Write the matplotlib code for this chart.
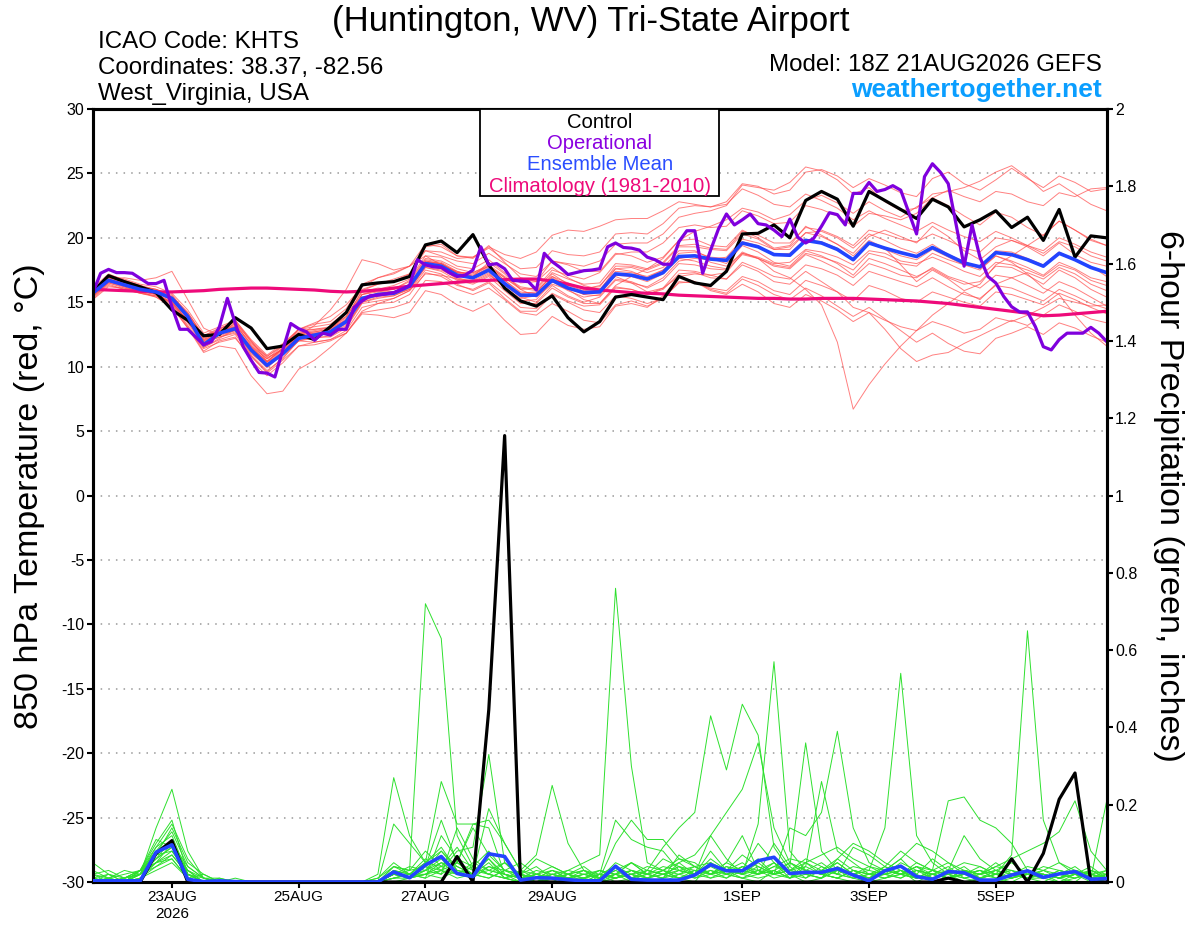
import matplotlib
matplotlib.use("Agg")
import matplotlib.pyplot as plt
from matplotlib.patches import Rectangle
import pandas as pd

plt.rcParams["font.family"] = ["Liberation Sans", "DejaVu Sans"]
plt.rcParams["axes.unicode_minus"] = False

# --- data: GEFS 18Z 21AUG2026, 6-hourly (operational 3-hourly) ---
times = pd.date_range("2026-08-21 18:00", periods=65, freq="6h")
times_op = pd.date_range("2026-08-21 18:00", periods=129, freq="3h")

control_t = [15.8, 17.06, 16.6, 16.2, 15.75, 14.4, 13.6, 12.4, 12.5, 13.8,
             13.0, 11.4, 11.6, 12.5, 12.1, 13.1, 14.2, 16.35, 16.5, 16.6,
             17.0, 19.45, 19.75, 18.85, 20.25, 17.9, 16.1, 15.1, 14.7, 15.5,
             13.8, 12.7, 13.5, 15.4, 15.6, 15.4, 15.2, 17.0, 16.5, 16.3,
             17.4, 20.3, 20.35, 21.0, 20.0, 22.9, 23.6, 23.0, 20.9, 23.6,
             22.9, 22.2, 21.5, 23.0, 22.4, 20.85, 21.4, 22.1, 20.8, 21.6,
             19.8, 22.2, 18.5, 20.15, 20.0]

mean_t = [15.7, 16.7, 16.35, 16.0, 15.8, 15.3, 13.9, 11.7, 12.6, 12.95,
          11.3, 10.1, 11.0, 12.2, 12.45, 12.7, 13.5, 15.3, 15.6, 15.7,
          16.25, 18.0, 17.8, 17.1, 16.9, 17.5, 16.45, 15.55, 15.55, 16.7,
          16.1, 15.75, 15.8, 17.2, 17.1, 16.8, 17.3, 18.55, 18.6, 18.35,
          18.25, 19.6, 19.3, 18.7, 18.65, 19.8, 19.6, 19.1, 18.3, 19.6,
          19.2, 18.85, 18.55, 19.25, 18.65, 18.05, 17.75, 18.85, 18.7, 18.3,
          17.8, 18.8, 18.3, 17.7, 17.3]

climo_t = [16.0, 15.95, 15.9, 15.85, 15.8, 15.8, 15.85, 15.9, 16.0, 16.05,
           16.1, 16.1, 16.05, 16.0, 15.95, 15.85, 15.8, 15.85, 15.95, 16.1,
           16.25, 16.35, 16.45, 16.55, 16.65, 16.7, 16.75, 16.8, 16.8, 16.65,
           16.4, 16.1, 15.95, 15.85, 15.75, 15.7, 15.65, 15.55, 15.5, 15.45,
           15.4, 15.35, 15.3, 15.3, 15.25, 15.25, 15.3, 15.3, 15.3, 15.25,
           15.2, 15.15, 15.1, 15.0, 14.9, 14.75, 14.6, 14.45, 14.3, 14.15,
           13.95, 14.0, 14.1, 14.2, 14.3]

oper_t = [15.7, 17.25, 17.55, 17.3, 17.3, 17.25, 16.85, 16.45, 16.45, 16.7,
          14.65, 12.9, 12.9, 12.3, 11.7, 11.95, 13.1, 15.3, 13.35, 11.55,
          10.5, 9.55, 9.5, 9.2, 11.3, 13.35, 12.95, 12.7, 12.05, 12.6,
          12.45, 12.9, 12.9, 14.6, 15.1, 15.5, 15.55, 15.65, 15.75, 16.0,
          16.3, 18.3, 17.9, 17.75, 17.7, 17.3, 17.0, 17.1, 17.5, 19.3,
          17.9, 18.0, 17.6, 16.7, 16.65, 16.6, 15.95, 18.8, 18.15, 17.7,
          17.15, 17.3, 17.45, 17.5, 17.6, 19.3, 19.6, 19.25, 19.2, 19.05,
          18.5, 18.3, 17.95, 17.95, 19.7, 20.55, 20.55, 17.25, 19.05, 20.7,
          21.85, 21.0, 21.4, 21.85, 21.1, 21.0, 20.6, 20.1, 21.45, 20.05,
          19.6, 19.95, 20.9, 21.95, 21.8, 21.0, 23.45, 23.45, 24.3, 23.6,
          23.75, 24.05, 23.7, 22.0, 20.3, 24.75, 25.75, 25.1, 24.2, 21.0,
          17.8, 21.0, 18.5, 17.0, 16.5, 15.45, 14.65, 14.25, 14.25, 13.1,
          11.55, 11.3, 12.1, 12.6, 12.6, 12.6, 13.05, 12.6, 11.95]

# ensemble members (850 hPa temperature)
temp_members = [
    [15.9, 16.9, 16.6, 16.2, 16.0, 15.6, 14.0, 12.3, 12.8, 13.2, 11.8, 10.8, 11.6, 12.7, 12.9, 13.1, 13.9, 15.8, 16.1, 16.0,
     16.7, 18.4, 18.2, 17.6, 17.3, 17.9, 17.0, 16.2, 16.0, 17.3, 16.8, 16.4, 16.5, 18.0, 17.9, 17.6, 18.1, 19.4, 19.5, 19.2,
     19.1, 20.5, 20.2, 19.6, 19.6, 20.8, 20.6, 20.1, 19.4, 20.6, 20.3, 19.9, 19.7, 20.3, 19.8, 19.2, 18.9, 20.0, 19.8, 19.4,
     19.0, 20.0, 19.5, 18.9, 18.5],
    [15.4, 16.4, 16.0, 15.7, 15.5, 14.8, 13.1, 11.2, 12.0, 12.3, 10.5, 9.3, 10.3, 11.6, 11.9, 12.1, 12.8, 14.6, 14.9, 15.0,
     15.6, 17.3, 17.0, 16.3, 16.0, 16.6, 15.6, 14.6, 14.5, 15.7, 15.1, 14.7, 14.8, 16.1, 16.0, 15.6, 16.0, 17.2, 17.3, 16.9,
     16.8, 18.1, 17.6, 17.0, 16.8, 17.9, 17.6, 17.1, 16.3, 17.4, 17.0, 16.6, 16.2, 16.9, 16.2, 15.6, 15.3, 16.3, 16.1, 15.6,
     15.1, 16.0, 15.5, 14.9, 14.5],
    [15.6, 16.8, 16.9, 16.7, 16.9, 17.4, 15.2, 13.0, 12.4, 12.8, 11.6, 10.6, 11.4, 12.9, 13.4, 13.9, 14.8, 16.2, 16.9, 17.3,
     17.8, 18.6, 17.9, 17.4, 17.0, 18.1, 17.2, 16.0, 15.4, 16.4, 16.0, 15.2, 14.9, 16.3, 17.0, 17.6, 18.4, 19.8, 20.5, 20.9,
     21.4, 22.3, 22.0, 21.4, 21.8, 22.9, 23.3, 22.7, 21.9, 22.8, 22.1, 21.6, 22.4, 23.1, 22.5, 21.7, 21.0, 22.0, 21.6, 20.8,
     20.2, 21.3, 20.6, 19.9, 19.4],
    [15.2, 16.2, 16.1, 15.9, 15.6, 15.0, 13.6, 12.0, 12.5, 13.4, 12.0, 10.4, 10.9, 12.0, 12.3, 13.0, 13.9, 15.6, 15.9, 15.8,
     16.3, 18.1, 18.0, 17.3, 17.3, 17.8, 16.9, 16.1, 15.9, 17.0, 16.5, 16.0, 16.3, 17.6, 17.4, 16.9, 17.5, 18.4, 18.7, 18.1,
     17.8, 18.8, 18.4, 17.4, 16.9, 16.0, 14.8, 11.9, 6.7, 8.6, 10.2, 11.6, 12.8, 14.0, 14.9, 15.8, 15.2, 16.4, 16.9, 17.3,
     16.8, 17.7, 17.2, 16.4, 15.9],
    [15.8, 17.1, 16.8, 16.4, 16.2, 15.7, 14.4, 12.6, 13.1, 13.6, 12.1, 10.9, 11.8, 12.9, 13.3, 13.5, 14.5, 16.4, 16.9, 17.2,
     17.8, 19.5, 19.3, 18.6, 18.5, 19.2, 18.3, 17.6, 17.7, 19.0, 18.7, 18.6, 18.9, 20.3, 20.4, 20.3, 21.1, 22.3, 22.5, 22.4,
     22.8, 24.2, 24.0, 23.4, 23.7, 25.1, 25.3, 24.8, 23.9, 24.6, 24.1, 23.5, 23.2, 24.6, 25.1, 24.2, 23.7, 24.5, 25.4, 24.6,
     23.9, 24.8, 24.3, 23.6, 23.8],
    [15.5, 16.5, 16.2, 15.8, 15.4, 14.6, 13.0, 11.4, 11.9, 12.2, 10.8, 9.5, 10.5, 11.6, 11.7, 12.0, 12.6, 14.2, 14.4, 14.6,
     15.0, 16.7, 16.6, 16.0, 15.6, 16.1, 15.2, 14.2, 14.0, 14.9, 14.3, 13.6, 13.4, 14.8, 15.1, 14.7, 15.3, 16.5, 16.6, 16.0,
     15.7, 16.8, 16.3, 15.6, 15.2, 16.1, 15.5, 14.7, 13.9, 14.6, 13.7, 12.8, 11.9, 12.6, 11.8, 11.2, 11.0, 12.2, 12.6, 13.1,
     12.5, 13.4, 13.0, 12.4, 11.9],
    [16.1, 17.2, 16.7, 16.3, 15.9, 15.2, 13.9, 12.1, 12.9, 13.5, 11.9, 10.7, 11.3, 12.4, 12.4, 12.6, 13.2, 15.0, 15.3, 15.5,
     16.1, 17.7, 17.5, 16.9, 16.6, 17.2, 16.1, 15.3, 15.5, 16.9, 16.1, 15.6, 15.9, 17.6, 17.7, 17.3, 17.7, 19.0, 19.0, 18.4,
     18.0, 19.4, 18.9, 18.1, 17.8, 19.0, 18.6, 18.0, 17.1, 18.4, 18.0, 17.5, 17.0, 17.6, 16.9, 16.4, 16.6, 17.8, 17.7, 17.1,
     16.4, 17.5, 16.9, 16.0, 15.4],
    [15.3, 16.3, 16.0, 15.7, 15.4, 14.7, 13.0, 11.1, 11.6, 11.4, 9.3, 7.9, 8.1, 9.8, 10.5, 11.5, 12.6, 14.3, 14.9, 15.3,
     15.9, 17.2, 17.1, 16.8, 16.5, 17.1, 16.3, 15.4, 15.0, 16.3, 15.5, 15.0, 15.4, 16.7, 16.5, 16.2, 16.9, 18.2, 18.4, 18.3,
     18.5, 19.9, 19.6, 19.1, 19.3, 20.4, 20.5, 20.0, 19.2, 20.3, 19.8, 19.2, 18.8, 19.5, 18.7, 18.2, 17.6, 18.6, 18.2, 17.7,
     17.1, 18.1, 17.6, 16.9, 16.6],
    [16.0, 17.0, 16.5, 16.1, 15.7, 15.0, 13.5, 11.9, 12.3, 12.6, 11.2, 10.0, 11.0, 12.4, 13.2, 14.4, 16.0, 18.3, 18.0, 17.5,
     17.8, 19.0, 18.6, 18.2, 18.0, 18.8, 18.0, 17.2, 17.0, 18.2, 17.9, 17.4, 17.4, 18.8, 18.6, 18.1, 18.5, 19.8, 19.9, 19.4,
     19.3, 20.6, 20.0, 19.2, 19.4, 20.9, 20.2, 19.5, 18.8, 20.1, 20.6, 20.1, 19.6, 20.9, 20.1, 19.0, 18.3, 19.3, 19.8, 19.3,
     18.6, 19.6, 18.7, 18.1, 17.8],
    [15.6, 16.6, 16.3, 16.1, 15.9, 15.3, 13.7, 11.5, 12.2, 12.9, 11.1, 9.9, 11.0, 12.0, 11.9, 12.1, 12.6, 14.1, 14.0, 13.8,
     14.2, 15.9, 15.6, 14.8, 14.3, 14.9, 13.6, 12.5, 12.6, 13.9, 13.2, 12.9, 13.1, 14.7, 14.9, 14.6, 15.5, 17.0, 17.2, 17.1,
     17.3, 18.8, 18.5, 18.0, 18.1, 19.1, 18.9, 18.5, 17.9, 19.0, 18.8, 18.2, 18.0, 18.5, 18.0, 17.4, 17.0, 18.1, 17.9, 17.5,
     17.0, 17.9, 17.5, 16.7, 16.3],
    [15.9, 16.8, 16.5, 16.1, 15.9, 15.4, 14.1, 12.4, 13.0, 13.4, 11.7, 10.6, 11.6, 12.9, 13.1, 13.3, 14.2, 16.0, 16.4, 16.6,
     17.2, 19.0, 18.9, 18.4, 18.5, 19.3, 18.7, 18.4, 18.9, 20.2, 20.6, 20.5, 20.9, 21.4, 21.5, 21.5, 22.1, 22.8, 22.6, 22.4,
     22.6, 23.8, 23.3, 22.6, 22.4, 23.4, 22.9, 22.3, 21.4, 22.1, 21.5, 21.0, 20.5, 21.2, 20.6, 20.1, 19.7, 20.5, 20.0, 19.4,
     18.8, 19.7, 19.3, 18.6, 18.2],
    [15.7, 16.7, 16.4, 16.0, 15.6, 14.9, 13.4, 11.6, 12.5, 12.8, 11.0, 10.1, 11.2, 12.4, 12.6, 12.7, 13.3, 15.1, 15.5, 15.6,
     16.0, 17.7, 17.4, 16.7, 16.4, 17.0, 15.9, 14.9, 14.9, 16.1, 15.4, 14.9, 14.9, 16.2, 16.0, 15.6, 16.1, 17.5, 17.4, 17.1,
     16.8, 17.9, 17.4, 16.6, 16.4, 17.4, 16.6, 15.8, 14.6, 14.2, 12.9, 11.4, 10.4, 10.9, 11.1, 11.8, 12.4, 13.0, 13.6, 13.2,
     14.0, 14.8, 14.3, 13.7, 13.4],
    [15.8, 16.9, 16.6, 16.2, 16.0, 15.5, 14.2, 12.3, 12.8, 13.1, 11.4, 10.4, 11.5, 12.6, 12.8, 13.0, 13.6, 15.6, 15.8, 16.0,
     16.6, 18.3, 18.1, 17.4, 17.1, 17.8, 16.9, 16.0, 16.1, 17.5, 17.1, 16.8, 17.3, 18.7, 18.9, 18.9, 19.6, 20.8, 21.0, 20.8,
     20.9, 22.1, 21.7, 21.1, 21.2, 22.5, 22.2, 21.7, 20.9, 21.9, 21.7, 21.4, 21.9, 23.1, 23.7, 23.2, 22.8, 23.6, 23.4, 22.8,
     22.5, 23.5, 23.2, 23.8, 23.9],
    [15.4, 16.5, 16.1, 15.7, 15.5, 15.0, 13.5, 11.8, 12.3, 12.7, 10.9, 9.7, 10.6, 12.1, 12.3, 12.3, 13.0, 14.9, 15.1, 15.3,
     15.9, 17.5, 17.2, 16.4, 15.9, 16.5, 15.3, 14.3, 14.3, 15.6, 15.0, 14.4, 14.2, 15.5, 15.3, 14.9, 15.3, 16.6, 16.5, 16.1,
     15.9, 17.0, 16.6, 15.9, 15.6, 16.7, 16.3, 15.8, 15.1, 16.3, 15.9, 15.3, 15.0, 15.8, 15.4, 15.0, 14.7, 15.8, 15.6, 15.2,
     14.8, 15.7, 15.2, 14.6, 14.1],
    [15.7, 16.6, 16.3, 15.9, 15.8, 15.1, 13.5, 11.9, 12.7, 13.1, 11.3, 10.2, 11.3, 12.2, 12.4, 12.8, 13.6, 15.3, 15.7, 15.8,
     16.3, 18.1, 18.0, 17.3, 17.2, 17.8, 16.7, 15.7, 15.8, 17.0, 16.2, 15.6, 15.5, 16.8, 16.6, 16.1, 16.7, 18.0, 17.9, 17.6,
     17.5, 18.7, 18.4, 17.9, 17.7, 18.8, 18.5, 18.1, 17.5, 18.8, 18.5, 18.0, 17.8, 18.8, 18.3, 17.9, 17.7, 19.0, 18.9, 18.4,
     17.9, 18.9, 18.3, 17.8, 17.0],
    [15.9, 16.8, 16.4, 16.0, 15.8, 15.2, 13.8, 12.1, 12.6, 13.0, 11.5, 10.3, 11.4, 12.6, 12.7, 12.9, 13.5, 15.4, 15.6, 15.8,
     16.4, 18.2, 18.0, 17.2, 17.0, 17.6, 16.4, 15.5, 15.7, 17.2, 16.4, 16.1, 16.2, 17.8, 17.8, 17.5, 18.0, 19.3, 19.3, 19.1,
     19.0, 20.3, 19.9, 19.1, 19.1, 20.4, 20.1, 19.5, 18.6, 19.8, 19.2, 17.9, 16.6, 17.5, 16.8, 15.9, 16.4, 17.9, 18.6, 19.4,
     20.2, 21.3, 20.6, 19.8, 19.4],
    [15.6, 16.7, 16.4, 16.0, 15.9, 15.2, 13.7, 12.0, 12.8, 13.3, 11.6, 10.4, 11.4, 12.5, 12.7, 12.9, 13.7, 15.6, 16.0, 16.3,
     16.8, 18.6, 18.5, 17.8, 17.6, 18.3, 17.3, 16.5, 16.6, 18.2, 18.0, 17.8, 18.2, 19.5, 19.6, 19.6, 20.3, 21.6, 21.9, 22.1,
     22.5, 24.1, 23.9, 23.7, 24.3, 25.5, 25.2, 24.5, 23.4, 23.9, 22.8, 22.1, 22.3, 23.4, 23.6, 23.9, 24.4, 25.1, 25.6, 24.7,
     23.6, 24.2, 23.4, 22.6, 22.1],
    [15.5, 16.6, 16.2, 15.8, 15.6, 14.9, 13.2, 11.5, 12.1, 12.5, 10.8, 9.6, 10.7, 12.0, 12.2, 12.4, 13.1, 15.0, 15.4, 15.5,
     16.0, 17.8, 17.6, 16.8, 16.7, 17.3, 16.1, 15.1, 15.2, 16.6, 15.9, 15.4, 15.6, 17.1, 17.0, 16.6, 17.2, 18.4, 18.2, 17.8,
     17.6, 18.9, 18.4, 17.8, 17.6, 18.7, 18.2, 17.6, 16.9, 18.0, 17.6, 17.1, 16.9, 17.7, 17.0, 16.6, 16.1, 17.1, 16.9, 16.3,
     15.7, 16.6, 16.1, 15.4, 14.7],
    [15.8, 16.8, 16.5, 16.1, 15.9, 15.3, 13.8, 12.2, 12.8, 13.1, 11.5, 10.4, 11.4, 12.5, 12.6, 12.8, 13.5, 15.3, 15.7, 15.8,
     16.4, 18.2, 18.0, 17.3, 17.0, 17.7, 16.7, 15.8, 15.7, 16.8, 16.3, 15.9, 16.0, 17.4, 17.3, 17.0, 17.5, 18.8, 18.9, 18.5,
     18.4, 19.7, 19.4, 18.7, 18.8, 19.9, 19.7, 19.2, 18.3, 19.6, 19.1, 18.6, 18.3, 19.1, 18.5, 17.9, 17.5, 18.6, 18.1, 17.2,
     16.1, 15.6, 14.0, 12.6, 11.6],
    [16.0, 17.0, 16.7, 16.3, 16.0, 15.4, 14.2, 12.4, 12.9, 13.6, 12.0, 10.8, 11.7, 12.9, 12.9, 13.0, 13.8, 15.9, 16.4, 16.8,
     17.2, 19.3, 19.5, 18.6, 18.4, 19.4, 18.1, 16.9, 16.6, 17.7, 16.9, 16.3, 16.0, 17.0, 16.5, 15.8, 16.1, 17.0, 16.6, 15.9,
     15.6, 16.4, 15.8, 14.9, 14.6, 15.6, 15.1, 14.4, 13.5, 14.2, 13.6, 13.1, 12.8, 13.5, 13.1, 12.6, 12.9, 13.8, 13.5, 14.0,
     14.6, 15.3, 15.0, 14.7, 14.8],
]

# 6-hour precipitation (inches)
control_p = [0, 0, 0, 0, 0.074, 0.107, 0, 0, 0, 0,
             0, 0, 0, 0, 0, 0, 0, 0, 0, 0,
             0, 0, 0, 0.066, 0, 0.446, 1.155, 0, 0, 0,
             0, 0, 0, 0, 0, 0, 0, 0, 0, 0,
             0, 0, 0, 0, 0, 0, 0, 0, 0, 0,
             0, 0, 0, 0, 0.01, 0, 0, 0, 0.06, 0,
             0.074, 0.214, 0.282, 0, 0]

mean_p = [0.003, 0.003, 0.003, 0.003, 0.077, 0.096, 0.007, 0.001, 0.003, 0.001,
          0, 0, 0, 0, 0, 0, 0, 0, 0, 0.026,
          0.011, 0.044, 0.066, 0.022, 0.014, 0.073, 0.066, 0.005, 0.011, 0.01,
          0.006, 0.003, 0.003, 0.041, 0.007, 0.005, 0.005, 0.005, 0.018, 0.045,
          0.029, 0.029, 0.055, 0.064, 0.022, 0.025, 0.025, 0.035, 0.018, 0.003,
          0.029, 0.041, 0.014, 0.007, 0.027, 0.024, 0.005, 0.005, 0.018, 0.029,
          0.012, 0.021, 0.027, 0.007, 0.009]

precip_members = [
    [0, 0, 0, 0.03, 0.1, 0.16, 0.02, 0, 0, 0, 0, 0, 0, 0, 0, 0, 0, 0, 0.01, 0.04,
     0.03, 0.72, 0.63, 0.12, 0.04, 0.02, 0.01, 0, 0.02, 0.01, 0, 0, 0, 0.02, 0, 0.01, 0, 0.02, 0.04, 0.05,
     0.02, 0.01, 0, 0.03, 0.01, 0.05, 0.02, 0.01, 0, 0, 0.01, 0.03, 0, 0.02, 0.04, 0.01, 0, 0, 0.01, 0.03,
     0.01, 0, 0.02, 0.01, 0],
    [0.02, 0.01, 0.03, 0.02, 0.14, 0.24, 0.08, 0.01, 0, 0, 0, 0, 0, 0, 0, 0, 0, 0, 0, 0.02,
     0.01, 0.03, 0.06, 0.02, 0.01, 0.04, 0.02, 0, 0, 0.01, 0, 0, 0.02, 0.04, 0.02, 0, 0.01, 0.05, 0.02, 0.08,
     0.03, 0.01, 0.02, 0.05, 0.02, 0.01, 0.04, 0.02, 0.01, 0, 0.03, 0.06, 0.02, 0, 0.01, 0.02, 0.01, 0, 0.02, 0.01,
     0, 0.02, 0.04, 0.01, 0],
    [0.05, 0.02, 0, 0.03, 0.09, 0.12, 0.02, 0, 0.01, 0, 0, 0, 0, 0, 0, 0, 0, 0, 0.02, 0.27,
     0.12, 0.05, 0.08, 0.03, 0.02, 0.06, 0.01, 0, 0.01, 0, 0.02, 0, 0.01, 0.03, 0.01, 0.02, 0.06, 0.04, 0.01, 0.02,
     0.05, 0.12, 0.03, 0.01, 0.02, 0, 0.01, 0.03, 0.02, 0.01, 0.04, 0.02, 0.01, 0.03, 0.02, 0, 0.01, 0.02, 0.03, 0.01,
     0.02, 0.01, 0, 0.03, 0.01],
    [0, 0.02, 0.01, 0.02, 0.06, 0.09, 0.01, 0.02, 0, 0, 0, 0, 0, 0, 0, 0, 0, 0, 0, 0.15,
     0.1, 0.05, 0.26, 0.15, 0.15, 0.14, 0.02, 0.01, 0, 0.02, 0.01, 0.03, 0, 0.01, 0.02, 0.01, 0.03, 0.01, 0, 0.05,
     0.02, 0.03, 0.1, 0.05, 0.01, 0.03, 0.02, 0.01, 0.03, 0.01, 0.02, 0.01, 0.03, 0.01, 0.02, 0.04, 0.01, 0.03, 0.01, 0.02,
     0.01, 0.03, 0.02, 0, 0.02],
    [0.01, 0, 0.01, 0.03, 0.07, 0.1, 0.04, 0.01, 0.01, 0, 0, 0, 0, 0, 0, 0, 0, 0, 0.01, 0.05,
     0.02, 0.06, 0.03, 0.08, 0.09, 0.33, 0.05, 0.02, 0.01, 0, 0, 0.01, 0.02, 0, 0.01, 0.03, 0.02, 0.01, 0.02, 0.03,
     0.01, 0.04, 0.02, 0.03, 0.05, 0.02, 0.01, 0.06, 0.03, 0.02, 0.01, 0.02, 0.05, 0.03, 0.01, 0.02, 0.03, 0.01, 0, 0.02,
     0.03, 0.01, 0.02, 0.01, 0.01],
    [0, 0, 0, 0.01, 0.05, 0.08, 0.03, 0, 0, 0, 0, 0, 0, 0, 0, 0, 0, 0, 0, 0.02,
     0.01, 0.03, 0.08, 0.04, 0.02, 0.19, 0.1, 0.03, 0.07, 0.25, 0.1, 0.03, 0.01, 0.02, 0.05, 0.02, 0.01, 0.03, 0.02, 0.01,
     0.03, 0.02, 0.05, 0.02, 0.04, 0.01, 0.03, 0.02, 0.01, 0.02, 0.02, 0.03, 0.01, 0.02, 0.01, 0.03, 0.02, 0.05, 0.02, 0.01,
     0.02, 0, 0.01, 0.02, 0.03],
    [0, 0.01, 0, 0.02, 0.04, 0.07, 0.02, 0, 0, 0, 0, 0, 0, 0, 0, 0, 0, 0, 0, 0.01,
     0.02, 0.01, 0.12, 0.06, 0.04, 0.02, 0.05, 0.01, 0, 0.02, 0.03, 0.05, 0.07, 0.76, 0.3, 0.05, 0.03, 0.01, 0.02, 0.04,
     0.02, 0.01, 0.03, 0.02, 0.01, 0.04, 0.02, 0.01, 0.03, 0.02, 0.01, 0.02, 0.01, 0.03, 0.05, 0.02, 0.01, 0.02, 0.01, 0.02,
     0.01, 0.02, 0.03, 0.01, 0],
    [0.01, 0, 0, 0.02, 0.05, 0.06, 0.01, 0, 0, 0, 0, 0, 0, 0, 0, 0, 0, 0, 0, 0,
     0.01, 0.04, 0.02, 0.05, 0.03, 0.06, 0.02, 0.01, 0.02, 0.01, 0, 0.01, 0, 0.01, 0.02, 0.03, 0.09, 0.14, 0.18, 0.43,
     0.29, 0.46, 0.38, 0.09, 0.03, 0.02, 0.01, 0.03, 0.02, 0.01, 0.02, 0.03, 0.01, 0.02, 0.01, 0.02, 0.03, 0.01, 0.02, 0.01,
     0.01, 0.02, 0.01, 0.03, 0.02],
    [0, 0, 0.01, 0.02, 0.08, 0.13, 0.04, 0.01, 0, 0, 0, 0, 0, 0, 0, 0, 0, 0, 0, 0.03,
     0.02, 0.05, 0.09, 0.03, 0.02, 0.05, 0.01, 0, 0.01, 0.03, 0.01, 0, 0.02, 0.01, 0.03, 0.01, 0.02, 0.04, 0.02, 0.12,
     0.06, 0.02, 0.15, 0.57, 0.08, 0.03, 0.02, 0.05, 0.02, 0.01, 0.03, 0.02, 0.04, 0.01, 0.02, 0.03, 0.01, 0.02, 0.03, 0.01,
     0.02, 0.01, 0.03, 0.01, 0.02],
    [0.02, 0.03, 0.01, 0.03, 0.11, 0.09, 0.03, 0, 0, 0.01, 0, 0, 0, 0, 0, 0, 0, 0, 0, 0.04,
     0.03, 0.08, 0.04, 0.02, 0.05, 0.03, 0.02, 0.01, 0.03, 0.02, 0.01, 0.02, 0.01, 0.03, 0.05, 0.02, 0.01, 0.07, 0.04, 0.02,
     0.05, 0.03, 0.02, 0.1, 0.04, 0.36, 0.08, 0.03, 0.02, 0.04, 0.02, 0.05, 0.03, 0.02, 0.01, 0.02, 0.04, 0.02, 0.01, 0.03,
     0.02, 0.01, 0.02, 0.04, 0.01],
    [0, 0.01, 0, 0.02, 0.06, 0.11, 0.02, 0, 0, 0, 0, 0, 0, 0, 0, 0, 0, 0, 0, 0.02,
     0.01, 0.04, 0.03, 0.05, 0.02, 0.04, 0.03, 0.02, 0.04, 0.01, 0.02, 0.03, 0.01, 0.05, 0.03, 0.02, 0.04, 0.03, 0.02, 0.06,
     0.03, 0.07, 0.04, 0.02, 0.14, 0.12, 0.18, 0.39, 0.14, 0.05, 0.03, 0.02, 0.04, 0.03, 0.02, 0.01, 0.02, 0.03, 0.05, 0.02,
     0.01, 0.03, 0.02, 0.01, 0.02],
    [0.01, 0, 0.01, 0.03, 0.07, 0.08, 0.02, 0.01, 0, 0, 0, 0, 0, 0, 0, 0, 0, 0, 0, 0.03,
     0.02, 0.05, 0.04, 0.09, 0.03, 0.02, 0.01, 0.02, 0, 0.01, 0.03, 0.02, 0.01, 0.02, 0.01, 0.03, 0.02, 0.01, 0.03, 0.02,
     0.04, 0.02, 0.03, 0.05, 0.02, 0.03, 0.05, 0.02, 0.04, 0.03, 0.14, 0.54, 0.12, 0.05, 0.02, 0.03, 0.01, 0.02, 0.01, 0.03,
     0.02, 0.01, 0.03, 0.02, 0.01],
    [0, 0, 0, 0.01, 0.04, 0.06, 0.01, 0, 0, 0, 0, 0, 0, 0, 0, 0, 0, 0, 0, 0.01,
     0.02, 0.03, 0.05, 0.02, 0.04, 0.08, 0.03, 0.01, 0.02, 0.03, 0.01, 0.02, 0.03, 0.01, 0.02, 0.01, 0.03, 0.02, 0.01, 0.03,
     0.02, 0.04, 0.02, 0.03, 0.01, 0.02, 0.03, 0.05, 0.02, 0.01, 0.03, 0.02, 0.01, 0.02, 0.03, 0.05, 0.04, 0.02, 0.07, 0.65,
     0.16, 0.05, 0.03, 0.02, 0.01],
    [0.03, 0.01, 0, 0.02, 0.09, 0.15, 0.06, 0.01, 0, 0, 0, 0, 0, 0, 0, 0, 0, 0, 0, 0.03,
     0.01, 0.02, 0.04, 0.05, 0.15, 0.16, 0.1, 0.03, 0.01, 0.02, 0.01, 0.01, 0.02, 0.16, 0.11, 0.09, 0.08, 0.03, 0.02, 0.05,
     0.03, 0.02, 0.04, 0.02, 0.03, 0.06, 0.04, 0.02, 0.09, 0.07, 0.04, 0.08, 0.05, 0.03, 0.21, 0.22, 0.16, 0.14, 0.1, 0.03,
     0.02, 0.01, 0.02, 0.03, 0.01],
    [0, 0, 0.01, 0.02, 0.05, 0.1, 0.02, 0, 0, 0, 0, 0, 0, 0, 0, 0, 0, 0, 0, 0.02,
     0.01, 0.02, 0.03, 0.01, 0.02, 0.03, 0.05, 0.02, 0.01, 0.03, 0.02, 0.01, 0.03, 0.02, 0.01, 0.02, 0.03, 0.06, 0.04, 0.02,
     0.03, 0.05, 0.02, 0.04, 0.06, 0.05, 0.07, 0.09, 0.06, 0.04, 0.03, 0.06, 0.1, 0.08, 0.05, 0.03, 0.02, 0.04, 0.06, 0.08,
     0.1, 0.13, 0.21, 0.08, 0.03],
    [0.01, 0.02, 0, 0.03, 0.08, 0.1, 0.03, 0.01, 0, 0, 0, 0, 0, 0, 0, 0, 0, 0, 0, 0.04,
     0.02, 0.02, 0.05, 0.04, 0.02, 0.01, 0.03, 0.05, 0.02, 0.01, 0.02, 0.04, 0.01, 0.02, 0.03, 0.01, 0.02, 0.03, 0.04, 0.02,
     0.01, 0.03, 0.06, 0.02, 0.03, 0.02, 0.01, 0.04, 0.02, 0.03, 0.02, 0.01, 0.03, 0.02, 0.01, 0.02, 0.03, 0.02, 0.01, 0.02,
     0.04, 0.03, 0.02, 0.01, 0.21],
    [0, 0, 0, 0.02, 0.06, 0.09, 0.02, 0, 0, 0, 0, 0, 0, 0, 0, 0, 0, 0, 0, 0.01,
     0.01, 0.02, 0.01, 0.03, 0.02, 0.01, 0.03, 0.02, 0.01, 0.02, 0.01, 0.02, 0.01, 0.1, 0.16, 0.11, 0.11, 0.06, 0.05, 0.02,
     0.03, 0.02, 0.01, 0.02, 0.05, 0.03, 0.02, 0.01, 0.03, 0.02, 0.04, 0.02, 0.03, 0.02, 0.01, 0.03, 0.02, 0.01, 0.02, 0.01,
     0.02, 0.01, 0.03, 0.02, 0.01],
    [0.02, 0, 0.01, 0.02, 0.07, 0.14, 0.05, 0.02, 0, 0, 0, 0, 0, 0, 0, 0, 0, 0, 0, 0.02,
     0.04, 0.03, 0.02, 0.14, 0.06, 0.03, 0.02, 0.01, 0.02, 0.04, 0.02, 0.01, 0.02, 0.01, 0.03, 0.02, 0.01, 0.02, 0.03, 0.01,
     0.02, 0.04, 0.03, 0.02, 0.03, 0.04, 0.26, 0.08, 0.05, 0.02, 0.03, 0.02, 0.01, 0.03, 0.02, 0.01, 0.02, 0.03, 0.02, 0.01,
     0.03, 0.02, 0.01, 0.02, 0.01],
    [0, 0.01, 0.02, 0.03, 0.05, 0.07, 0.02, 0, 0, 0, 0, 0, 0, 0, 0, 0, 0, 0, 0, 0.01,
     0.02, 0.01, 0.03, 0.02, 0.04, 0.02, 0.01, 0.03, 0.02, 0.01, 0.02, 0.03, 0.02, 0.01, 0.02, 0.04, 0.03, 0.05, 0.07, 0.12,
     0.18, 0.24, 0.36, 0.14, 0.05, 0.03, 0.02, 0.03, 0.01, 0.02, 0.03, 0.02, 0.04, 0.02, 0.01, 0.03, 0.02, 0.04, 0.03, 0.02,
     0.01, 0.02, 0.03, 0.01, 0.02],
    [0.01, 0, 0, 0.01, 0.03, 0.05, 0.01, 0, 0, 0, 0, 0, 0, 0, 0, 0, 0, 0, 0, 0.02,
     0.03, 0.04, 0.16, 0.05, 0.14, 0.07, 0.03, 0.02, 0.06, 0.04, 0.02, 0.01, 0.03, 0.02, 0.05, 0.03, 0.02, 0.04, 0.03, 0.02,
     0.04, 0.03, 0.02, 0.04, 0.03, 0.05, 0.03, 0.06, 0.1, 0.08, 0.05, 0.03, 0.02, 0.06, 0.03, 0.12, 0.06, 0.03, 0.02, 0.04,
     0.03, 0.05, 0.02, 0.01, 0.03],
]

assert all(len(m) == 65 for m in temp_members), [len(m) for m in temp_members]
assert all(len(m) == 65 for m in precip_members), [len(m) for m in precip_members]

tick_dates = pd.to_datetime(["2026-08-23", "2026-08-25", "2026-08-27", "2026-08-29",
                             "2026-09-01", "2026-09-03", "2026-09-05"])
tick_labels = ["23AUG\n2026", "25AUG", "27AUG", "29AUG", "1SEP", "3SEP", "5SEP"]

# --- figure ---
fig = plt.figure(figsize=(12, 9.27), dpi=100)
ax = fig.add_axes([0.07725, 0.04854, 0.845, 0.83388])
ax2 = ax.twinx()

for m in temp_members:
    ax.plot(times, m, color="#ff4a4a", lw=0.7, alpha=0.7, zorder=2)
ax.plot(times, climo_t, color="#ee0a7a", lw=2.3, zorder=3)
ax.plot(times, control_t, color="black", lw=2.3, zorder=4)
ax.plot(times, mean_t, color="#2244ff", lw=2.6, zorder=5)
ax.plot(times_op, oper_t, color="#7f00dd", lw=2.3, zorder=6)

for m in precip_members:
    ax2.plot(times, m, color="#2ee02e", lw=0.7, zorder=2)
ax2.plot(times, control_p, color="black", lw=2.3, zorder=3)
ax2.plot(times, mean_p, color="#2244ff", lw=2.6, zorder=4)

ax.set_xlim(times[0], times[-1])
ax.set_ylim(-30, 30)
ax2.set_ylim(0, 2)
ax.set_yticks(range(-30, 31, 5))
ax2.set_yticks([0, 0.2, 0.4, 0.6, 0.8, 1, 1.2, 1.4, 1.6, 1.8, 2])
ax2.set_yticklabels(["0", "0.2", "0.4", "0.6", "0.8", "1", "1.2", "1.4", "1.6", "1.8", "2"])
ax.set_xticks(tick_dates)
ax.set_xticklabels(tick_labels)

ax.yaxis.grid(True, linestyle=(0, (1, 4)), color="#999999", lw=1.1)
ax.tick_params(axis="y", direction="out", length=4, width=1.5, labelsize=11.5, pad=2)
ax.tick_params(axis="x", direction="out", length=4, width=1.5, labelsize=11, pad=2)
ax2.tick_params(axis="y", direction="out", length=4, width=1.5, labelsize=11.5, pad=2)
for a in (ax, ax2):
    for s in a.spines.values():
        s.set_linewidth(2.2)

# legend box
ax2.add_patch(Rectangle((0.3817, 0.8873), 0.2357, 0.1127, transform=ax2.transAxes,
                        facecolor="white", edgecolor="black", lw=1.3, zorder=10))
leg_items = [("Control", "black", 0.983), ("Operational", "#8a00e0", 0.9557),
             ("Ensemble Mean", "#2a4dff", 0.9285), ("Climatology (1981-2010)", "#ee0a7a", 0.9003)]
for txt, col, yy in leg_items:
    ax2.text(0.5, yy, txt, color=col, fontsize=14.6, ha="center", va="center",
             transform=ax2.transAxes, zorder=11)

# header texts
fig.text(0.4925, 0.9666, "(Huntington, WV) Tri-State Airport", fontsize=25, ha="center", va="baseline")
fig.text(0.0817, 0.9482, "ICAO Code: KHTS", fontsize=17.4, ha="left", va="baseline")
fig.text(0.0817, 0.9202, "Coordinates: 38.37, -82.56", fontsize=17.4, ha="left", va="baseline")
fig.text(0.0817, 0.8922, "West_Virginia, USA", fontsize=17.4, ha="left", va="baseline")
fig.text(0.9183, 0.9229, "Model: 18Z 21AUG2026 GEFS", fontsize=17.4, ha="right", va="baseline")
fig.text(0.9183, 0.8954, "weathertogether.net", fontsize=19, fontweight="bold",
         color="#0a9eff", ha="right", va="baseline")

fig.text(0.025, 1 - 496 / 927, "850 hPa Temperature (red, °C)", fontsize=24.5,
         rotation=90, ha="center", va="center")
fig.text(0.974, 1 - 496 / 927, "6-hour Precipitation (green, inches)", fontsize=24.5,
         rotation=270, ha="center", va="center")

fig.savefig("out.png", dpi=100)
